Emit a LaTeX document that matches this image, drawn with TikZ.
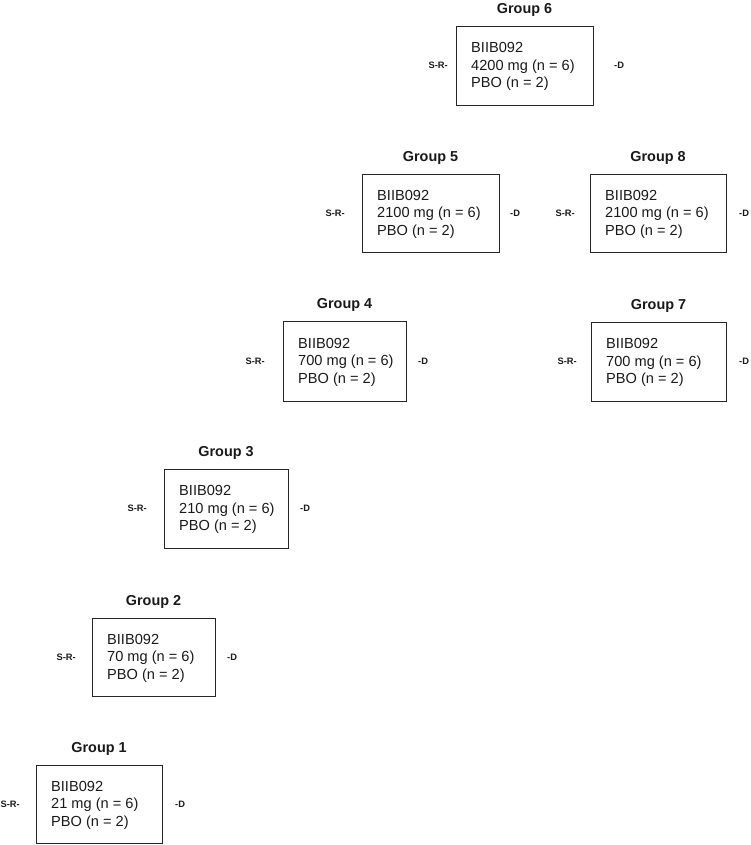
\documentclass[tikz,border=0pt]{standalone}
\usepackage{fontspec}
\setmainfont{Liberation Sans}
\begin{document}
\begin{tikzpicture}[x=1pt,y=-1pt,
  gbox/.style={draw=black!85, line width=0.9pt, inner sep=0pt, outer sep=0pt},
  gtxt/.style={font=\fontsize{14.6}{17.5}\selectfont, align=left, inner sep=0pt, anchor=west, text=black!90},
  gtitle/.style={font=\fontsize{14.4}{17}\selectfont\bfseries, inner sep=0pt, text=black!90},
  side/.style={font=\fontsize{9.3}{11}\selectfont\bfseries, inner sep=0pt, text=black!90}]
\useasboundingbox (0,0) rectangle (750,845);
\newcommand{\grp}[9]{%
  \node[gbox, minimum width={#3-#2}, minimum height={#5-#4}] (#1) at ({(#2+#3)/2},{(#4+#5)/2}) {};
  \node[gtxt] (#1x) at ([xshift=15pt,yshift=-1pt]#1.west) {BIIB092\\#7 (n = 6)\\PBO (n = 2)};
  \node[gtitle] (#1t) at ([yshift=16.5pt]#1.north) {Group #6};
  \node[side, anchor=east] (#1s) at (#8,{(#4+#5)/2}) {S-R-};
  \node[side, anchor=west] (#1d) at (#9,{(#4+#5)/2}) {-D};
}
\grp{g6}{456}{593}{26}{105}{6}{4200 mg}{448}{614}
\grp{g5}{362}{499}{174}{252}{5}{2100 mg}{345}{510}
\grp{g8}{590}{726}{174}{252}{8}{2100 mg}{575}{739}
\grp{g4}{283}{406}{321}{401}{4}{700 mg}{265}{418}
\grp{g7}{591}{726}{322}{401}{7}{700 mg}{577}{739}
\grp{g3}{164}{288}{469}{548}{3}{210 mg}{147}{300}
\grp{g2}{92}{215}{618}{696}{2}{70 mg}{76}{227}
\grp{g1}{36}{162}{765}{843}{1}{21 mg}{20}{175}
\end{tikzpicture}
\end{document}
